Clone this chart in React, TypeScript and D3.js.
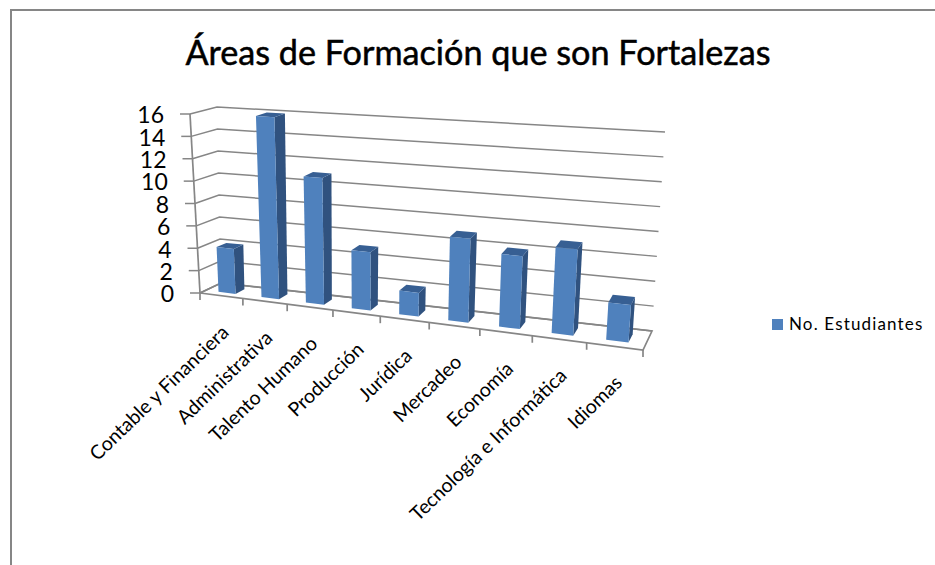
import React from "react";
import * as d3 from "d3";

const categories = ["Contable y Financiera", "Administrativa", "Talento Humano", "Producción", "Jurídica", "Mercadeo", "Economía", "Tecnología e Informática", "Idiomas"];
const seriesName = "No. Estudiantes";
const values = [4, 16, 11, 5, 2, 7, 6, 7, 3];
const yTicks = [0, 2, 4, 6, 8, 10, 12, 14, 16];
const title = "Áreas de Formación que son Fortalezas";

const BLUE = "#4f81bd";
const SIDE = "#30527f";
const TOP = "#375f93";
const GRID = "#868686";
const FONT = "Lato, 'Noto Sans', sans-serif";

// projected corners of the 3D box (value 0 and value 16)
const val = d3.scaleLinear().domain([0, 16]).range([0, 1]);
type P = [number, number];
const mix = (a: P, b: P, k: number): P => [a[0] + (b[0] - a[0]) * k, a[1] + (b[1] - a[1]) * k];
const FL0: P = [200, 293], FL1: P = [190, 114];
const FR0: P = [643, 350], FR1: P = [657, 148];
const BL0: P = [221, 283], BL1: P = [217, 107];
const BR0: P = [652, 331], BR1: P = [665, 132];

const R = 1.166;
const warp = (t: number) => t / (t + R * (1 - t));

// t: along the categories (0..1), v: depth front to back (0..1), value: data value
const project = (t: number, v: number, value: number): P => {
  const k = val(value), f = warp(t);
  const fl = mix(FL0, FL1, k), fr = mix(FR0, FR1, k), bl = mix(BL0, BL1, k), br = mix(BR0, BR1, k);
  return mix(mix(fl, fr, f), mix(bl, br, f), v);
};
const poly = (pts: P[]) => d3.line()(pts) + "Z";

const band = d3.scaleBand<string>().domain(categories).range([0, 1]).paddingInner(0.6).paddingOuter(0.3);
const boundary = d3.scaleLinear().domain([0, categories.length]).range([0, 1]);
const V0 = 0.28, V1 = 0.72;

export default function App() {
  const axisTop = yTicks[yTicks.length - 1];
  return (
    <svg width={935} height={565} style={{ position: "absolute", left: 0, top: 0, display: "block", background: "#fff" }}>
      <path d="M11 565V10H935" fill="none" stroke={GRID} strokeWidth={2} />
      <text x={478} y={65} textAnchor="middle" fontFamily={FONT} fontSize={34.2} stroke="#000" strokeWidth={0.5} fill="#000">{title}</text>

      {/* walls and gridlines */}
      <g fill="none" stroke={GRID} strokeWidth={1.5}>
        {yTicks.map((d) => (
          <g key={d}>
            <path d={d3.line()([project(0, 0, d), project(0, 1, d), project(1, 1, d)]) as string} />
            <line x1={project(0, 0, d)[0] - 10} x2={project(0, 0, d)[0]} y1={project(0, 0, d)[1]} y2={project(0, 0, d)[1]} />
          </g>
        ))}
        <path d={d3.line()([project(0, 0, 0), project(0, 0, axisTop)]) as string} strokeWidth={1.7} />
        <path d={d3.line()([project(0, 0, 0), project(1, 0, 0), project(1, 1, 0), project(0, 1, 0), project(0, 0, 0)]) as string} strokeWidth={1.7} />
        {d3.range(categories.length + 1).map((i) => {
          const p = project(boundary(i), 0, 0);
          return <line key={i} x1={p[0]} x2={p[0]} y1={p[1]} y2={p[1] + 7} strokeWidth={1.7} />;
        })}
      </g>

      {/* bars */}
      {categories.map((c, i) => {
        const t0 = band(c) as number, t1 = t0 + band.bandwidth(), d = values[i];
        return (
          <g key={c}>
            <path fill={SIDE} d={poly([project(t1, V0, 0), project(t1, V1, 0), project(t1, V1, d), project(t1, V0, d)])} />
            <path fill={TOP} d={poly([project(t0, V0, d), project(t1, V0, d), project(t1, V1, d), project(t0, V1, d)])} />
            <path fill={BLUE} d={poly([project(t0, V0, 0), project(t1, V0, 0), project(t1, V0, d), project(t0, V0, d)])} />
          </g>
        );
      })}

      {/* value labels */}
      {yTicks.map((d) => {
        const p = project(0, 0, d);
        return (
          <text key={d} x={p[0] - 26} y={p[1] + 1} dy="0.36em" textAnchor="end" fontFamily={FONT} fontSize={23} fill="#000">{d}</text>
        );
      })}

      {/* category labels */}
      {categories.map((c, i) => {
        const p = project(boundary(i + 0.5), 0, 0);
        return (
          <text key={c} transform={`translate(${p[0] + 4},${p[1] + 33}) rotate(-44)`} dy="0.35em" textAnchor="end" fontFamily={FONT} fontSize={19.5} fill="#000">{c}</text>
        );
      })}

      {/* legend */}
      <rect x={772} y={319} width={11} height={11} fill={BLUE} />
      <text x={789} y={330} fontFamily={FONT} fontSize={17} letterSpacing={1.15} fill="#000">{seriesName}</text>
    </svg>
  );
}
